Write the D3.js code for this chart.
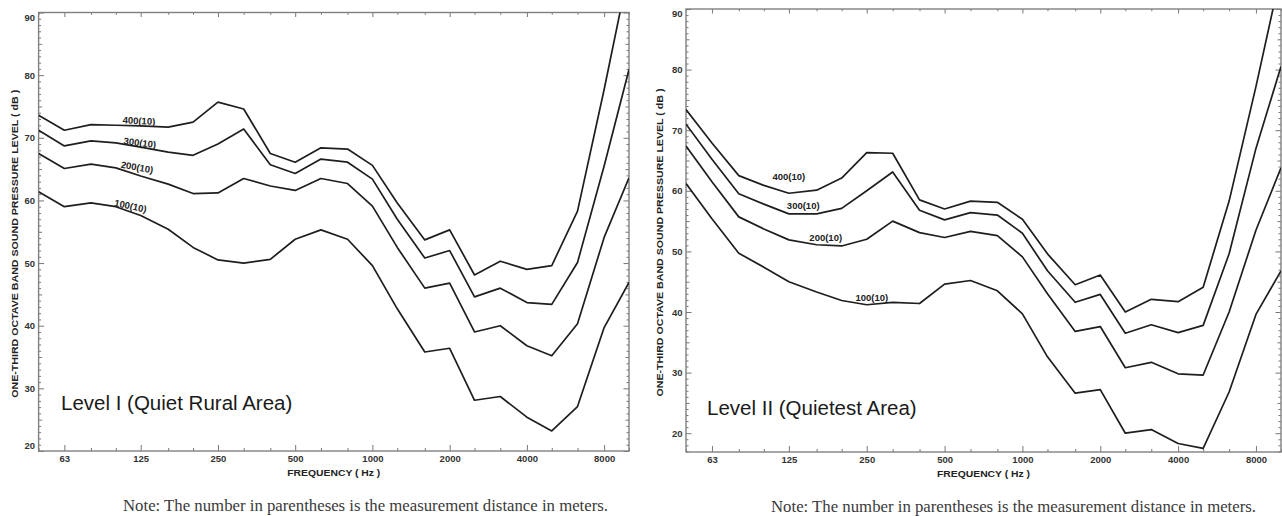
<!DOCTYPE html>
<html>
<head>
<meta charset="utf-8">
<script src="https://cdn.jsdelivr.net/npm/d3@7"></script>
<style>
  body { margin: 0; background: #fff; }
  .tick text { font-family: "Liberation Sans", Arial, sans-serif; font-weight: bold; font-size: 9.5px; fill: #333; }
  .tick line { stroke: #777; }
  .curve { fill: none; stroke: #1e1e1e; stroke-width: 1.7; stroke-linejoin: round; }
  .curveLabel { font-family: "Liberation Sans", Arial, sans-serif; font-weight: bold; font-size: 9.5px; fill: #222; }
  .axisTitle { font-family: "Liberation Sans", Arial, sans-serif; font-weight: bold; font-size: 9.5px; fill: #222; }
  .levelTitle { font-family: "Liberation Sans", Arial, sans-serif; font-size: 20.5px; fill: #1a1a1a; }
  .note { font-family: "Liberation Serif", "Times New Roman", serif; font-size: 16px; fill: #3a3a3a; }
</style>
</head>
<body>
<div id="chart"></div>
<script>
// one-third octave band centres (Hz)
const freqs = [50, 63, 80, 100, 125, 160, 200, 250, 315, 400, 500, 630, 800, 1000, 1250, 1600, 2000, 2500, 3150, 4000, 5000, 6300, 8000, 10000];

// Level I (Quiet Rural Area), dB
const levelI_400 = [73.6, 71.2, 72.1, 72.0, 71.9, 71.7, 72.5, 75.7, 74.6, 67.5, 66.1, 68.4, 68.2, 65.6, 59.6, 53.7, 55.3, 48.1, 50.3, 49.0, 49.6, 58.3, 77.7, 97.0];
const levelI_300 = [71.2, 68.7, 69.5, 69.2, 68.5, 67.7, 67.2, 69.0, 71.4, 65.7, 64.3, 66.6, 66.1, 63.4, 57.0, 50.8, 52.0, 44.6, 46.0, 43.7, 43.4, 50.1, 65.5, 80.9];
const levelI_200 = [67.5, 65.1, 65.8, 65.2, 63.9, 62.6, 61.1, 61.2, 63.5, 62.3, 61.6, 63.5, 62.7, 59.1, 52.5, 46.0, 46.8, 39.0, 40.0, 36.8, 35.2, 40.3, 54.1, 63.6];
const levelI_100 = [61.4, 59.0, 59.6, 59.0, 57.6, 55.4, 52.5, 50.5, 50.0, 50.6, 53.8, 55.3, 53.8, 49.6, 42.7, 35.8, 36.4, 28.1, 28.7, 25.4, 23.2, 27.1, 39.7, 46.9];

// Level II (Quietest Area), dB
const levelII_400 = [73.4, 67.9, 62.5, 60.9, 59.6, 60.1, 62.1, 66.3, 66.2, 58.5, 57.0, 58.3, 58.1, 55.3, 49.6, 44.5, 46.1, 40.0, 42.1, 41.7, 44.1, 58.3, 77.2, 96.0];
const levelII_300 = [71.0, 65.2, 59.5, 57.8, 56.2, 56.2, 57.1, 60.0, 63.1, 56.8, 55.2, 56.4, 56.0, 53.0, 46.8, 41.6, 42.9, 36.5, 37.9, 36.6, 37.8, 49.6, 67.0, 80.5];
const levelII_200 = [67.4, 61.5, 55.7, 53.7, 51.9, 51.1, 50.9, 52.0, 55.0, 53.1, 52.3, 53.3, 52.6, 49.1, 43.0, 36.8, 37.6, 30.8, 31.7, 29.8, 29.6, 40.0, 53.5, 63.8];
const levelII_100 = [61.2, 55.4, 49.7, 47.4, 45.0, 43.3, 41.9, 41.2, 41.6, 41.4, 44.6, 45.2, 43.5, 39.7, 32.6, 26.6, 27.2, 20.0, 20.6, 18.3, 17.5, 26.8, 39.6, 46.8];

const curveNames = ["400(10)", "300(10)", "200(10)", "100(10)"];
const freqTicks = [63, 125, 250, 500, 1000, 2000, 4000, 8000];
const freqMinor = [50, 80, 100, 160, 200, 315, 400, 630, 800, 1250, 1600, 2500, 3150, 5000, 6300, 10000];
const dbTicks = [20, 30, 40, 50, 60, 70, 80, 90];

const yTitle = "ONE-THIRD OCTAVE BAND SOUND PRESSURE LEVEL ( dB )";
const xTitle = "FREQUENCY ( Hz )";
const noteText = "Note:  The number in parentheses is the measurement distance in meters.";

const W = 1282, H = 516;
const svg = d3.select("#chart").append("svg")
    .attr("width", W)
    .attr("height", H);

const panels = [
    {
        id: "p1", left: 38.6, right: 629, top: 12.5, bottom: 451, yMin: 20,
        series: [levelI_400, levelI_300, levelI_200, levelI_100],
        title: "Level I (Quiet Rural Area)",
        // label anchors in data units: freq, dB, angle
        labels: [[123, 72.7, 3], [124, 69.2, 7], [121, 65.3, 10], [114, 59.1, 12]],
        titleX: 61, titleY: 410,
        yTitleX: 14, xTitleY: 476, noteX: 123, noteY: 511
    },
    {
        id: "p2", left: 686, right: 1281, top: 9, bottom: 452, yMin: 16.9,
        series: [levelII_400, levelII_300, levelII_200, levelII_100],
        title: "Level II (Quietest Area)",
        labels: [[125, 62.3, 0], [142, 57.5, 0], [173.5, 52.2, 0], [261.5, 42.4, 0]],
        titleX: 707, titleY: 415,
        yTitleX: 659, xTitleY: 477, noteX: 771, noteY: 512
    }
];

panels.forEach(function(p) {
    const xScale = d3.scaleLog().domain([50, 10000]).range([p.left, p.right]);
    const yScale = d3.scaleLinear().domain([p.yMin, 90]).range([p.bottom, p.top]);

    const g = svg.append("g");

    g.append("clipPath").attr("id", "clip-" + p.id)
        .append("rect")
        .attr("x", p.left).attr("y", p.top)
        .attr("width", p.right - p.left).attr("height", p.bottom - p.top);

    // minor dB ticks (every 1 dB, 5s a little longer)
    const dbMinor = d3.range(Math.ceil(p.yMin), 91).filter(d => d % 10 != 0);
    const db1 = dbMinor.filter(d => d % 5 != 0);
    const db5 = dbMinor.filter(d => d % 5 == 0);

    function yAxes(vals, size, labels) {
        const l = g.append("g").attr("transform", `translate(${p.left},0)`)
            .call(d3.axisLeft(yScale).tickValues(vals).tickSize(-size).tickPadding(3.5)
                .tickFormat(labels ? d3.format("d") : ""));
        const r = g.append("g").attr("transform", `translate(${p.right},0)`)
            .call(d3.axisRight(yScale).tickValues(vals).tickSize(-size).tickFormat(""));
        l.select(".domain").remove();
        r.select(".domain").remove();
        return l;
    }
    yAxes(db1, 2.5, false);
    yAxes(db5, 3.5, false);
    const yMajor = yAxes(dbTicks, 5.5, true);
    // keep end labels inside the frame
    yMajor.selectAll(".tick text").attr("y", function(d) {
        const y = yScale(d);
        const c = Math.max(p.top + 4.5, Math.min(p.bottom - 6, y));
        return c - y;
    });

    function xAxes(vals, size, labels) {
        const b = g.append("g").attr("transform", `translate(0,${p.bottom})`)
            .call(d3.axisBottom(xScale).tickValues(vals).tickSize(-size).tickPadding(4)
                .tickFormat(labels ? (d => String(d)) : ""));
        const t = g.append("g").attr("transform", `translate(0,${p.top})`)
            .call(d3.axisTop(xScale).tickValues(vals).tickSize(-size * 0.75).tickFormat(""));
        b.select(".domain").remove();
        t.select(".domain").remove();
    }
    xAxes(freqMinor, 3, false);
    xAxes(freqTicks, 6, true);

    // frame
    g.append("rect")
        .attr("x", p.left).attr("y", p.top)
        .attr("width", p.right - p.left).attr("height", p.bottom - p.top)
        .attr("fill", "none").attr("stroke", "#808080").attr("stroke-width", 1.4);

    const line = d3.line()
        .x((d, i) => xScale(freqs[i]))
        .y(d => yScale(d));

    g.append("g").attr("clip-path", `url(#clip-${p.id})`)
        .selectAll("path")
        .data(p.series)
        .enter()
        .append("path")
            .attr("class", "curve")
            .attr("d", line);

    g.selectAll(".curveLabel")
        .data(p.labels)
        .enter()
        .append("text")
            .attr("class", "curveLabel")
            .attr("text-anchor", "middle")
            .attr("dy", "0.35em")
            .attr("transform", d => `translate(${xScale(d[0])},${yScale(d[1])}) rotate(${d[2]})`)
            .text((d, i) => curveNames[i]);

    g.append("text")
        .attr("class", "levelTitle")
        .attr("x", p.titleX)
        .attr("y", p.titleY)
        .text(p.title);

    g.append("text")
        .attr("class", "axisTitle")
        .attr("text-anchor", "middle")
        .attr("x", (p.left + p.right) / 2)
        .attr("y", p.xTitleY)
        .attr("textLength", 93)
        .attr("lengthAdjust", "spacingAndGlyphs")
        .text(xTitle);

    g.append("text")
        .attr("class", "axisTitle")
        .attr("text-anchor", "middle")
        .attr("transform", `translate(${p.yTitleX + 3.5},${(p.top + p.bottom) / 2 + 12}) rotate(-90)`)
        .attr("textLength", 308)
        .attr("lengthAdjust", "spacingAndGlyphs")
        .text(yTitle);

    g.append("text")
        .attr("class", "note")
        .attr("x", p.noteX)
        .attr("y", p.noteY)
        .attr("textLength", 485)
        .attr("lengthAdjust", "spacingAndGlyphs")
        .text(noteText);
});
</script>
</body>
</html>
